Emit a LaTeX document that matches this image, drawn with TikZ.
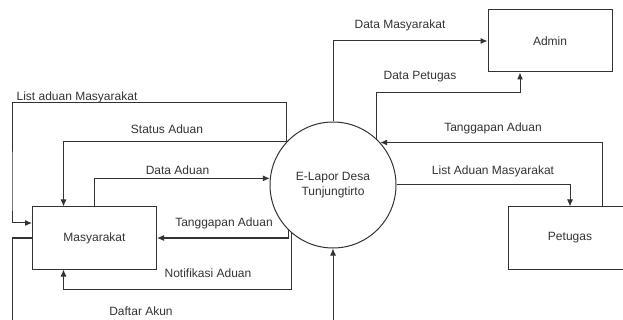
\documentclass[tikz,border=0pt]{standalone}
\usepackage{fontspec}
\setmainfont{Liberation Sans}
\usetikzlibrary{arrows.meta}
\begin{document}
\begin{tikzpicture}[x=1pt,y=-1pt,
  every node/.style={font=\fontsize{12}{15}\selectfont, text=black!80},
  entity/.style={draw=black!80, line width=1pt, minimum width=124pt, minimum height=62pt, inner sep=0pt},
  proc/.style={draw=black!80, line width=1pt, circle, minimum size=126pt, inner sep=0pt, align=center},
  flow/.style={draw=black!80, line width=1pt, -{Latex[length=7pt,width=6pt]}},
  lbl/.style={inner sep=0pt}]
\useasboundingbox (0,0) rectangle (623,320);
\clip (0,0) rectangle (623,320);
\node[proc] (sys) at (333,185) {E-Lapor Desa\\Tunjungtirto};
\node[entity] (adm) at (550,41) {Admin};
\node[entity] (pet) at (570,238) {Petugas};
\node[entity] (mas) at (94.5,238) {Masyarakat};
% right side
\draw[flow] (sys.north) |- (adm.west);
\draw[flow] (sys.47) -- ++(0,-46) -| ([xshift=-30pt]adm.south);
\draw[flow] ([xshift=32pt]pet.north) |- (sys.42);
\draw[flow] (sys.east) -| (pet.north);
% left side
\draw[flow] (sys.137) -- ++(0,-39) -| (12,200) |- ([yshift=15pt]mas.west);
\draw[flow] (sys.137) -| ([xshift=-31pt]mas.north);
\draw[flow] (mas.north) |- (sys.174.5);
\draw[flow] (sys.225.6) |- (mas.east);
\draw[flow] (sys.229.4) -- ++(0,57) -| ([xshift=-31pt]mas.south);
\draw[flow] (mas.west) -| (12,320) -| (sys.south);
% labels
\node[lbl] (l1) at (400,25) {Data Masyarakat};
\node[lbl] (l2) at (420,77) {Data Petugas};
\node[lbl] (l3) at (493,128) {Tanggapan Aduan};
\node[lbl] (l4) at (493,171) {List Aduan Masyarakat};
\node[lbl] (l5) at (77,97) {List aduan Masyarakat};
\node[lbl] (l6) at (167,129) {Status Aduan};
\node[lbl] (l7) at (177.5,170) {Data Aduan};
\node[lbl] (l8) at (224,223) {Tanggapan Aduan};
\node[lbl] (l9) at (208,273) {Notifikasi Aduan};
\node[lbl] (l10) at (141,311.5) {Daftar Akun};
\end{tikzpicture}
\end{document}
